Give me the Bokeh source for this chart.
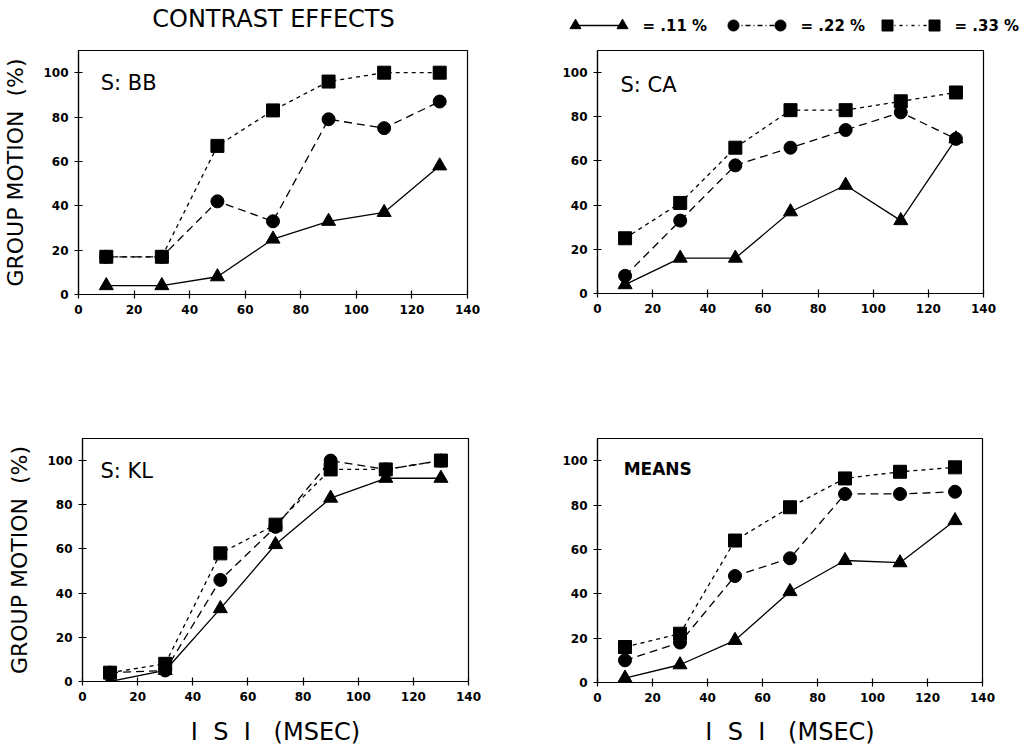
from bokeh.plotting import figure
from bokeh.layouts import column, row
from bokeh.models import Range1d, Label
from bokeh.embed import file_html
from bokeh.resources import INLINE
from bokeh.core.properties import value

# ---------------- data ----------------
isi = [10, 30, 50, 70, 90, 110, 130]
x_ticks = [0, 20, 40, 60, 80, 100, 120, 140]
y_ticks = [0, 20, 40, 60, 80, 100]
conc_labels = ["= .11 %", "= .22 %", "= .33 %"]

bb_11 = [4, 4, 8, 25, 33, 37, 58]
bb_22 = [17, 17, 42, 33, 79, 75, 87]
bb_33 = [17, 17, 67, 83, 96, 100, 100]

ca_11 = [4, 16, 16, 37, 49, 33, 70]
ca_22 = [8, 33, 58, 66, 74, 82, 70]
ca_33 = [25, 41, 66, 83, 83, 87, 91]

kl_11 = [0, 5, 33, 62, 83, 92, 92]
kl_22 = [4, 5, 46, 70, 100, 96, 100]
kl_33 = [4, 8, 58, 71, 96, 96, 100]

mn_11 = [2, 8, 19, 41, 55, 54, 73]
mn_22 = [10, 18, 48, 56, 85, 85, 86]
mn_33 = [16, 22, 64, 79, 92, 95, 97]

panel_names = ["S: BB", "S: CA", "S: KL", "MEANS"]
y_title = "GROUP MOTION\u00a0\u00a0(%)"
x_title = "I\u00a0\u00a0S\u00a0\u00a0I\u00a0\u00a0\u00a0(MSEC)"

# ---------------- styles ----------------
markers = ["triangle", "circle", "square"]
marker_sizes = [14, 13, 13]
dashes = ["solid", "8 5", "4 4"]
legend_dashes = ["solid", "5 3 1 3", "3 4 1 4"]
FONT = "DejaVu Sans"


def make_panel(name, series, borders, fw, fh, ylabel, xlabel, name_pos,
               name_bold=False, x_standoff=14):
    l, r, t, b = borders
    p = figure(frame_width=fw, frame_height=fh,
               min_border_left=l, min_border_right=r,
               min_border_top=t, min_border_bottom=b,
               x_range=Range1d(0, 140), y_range=Range1d(0, 110),
               output_backend="svg", toolbar_location=None)
    p.xgrid.visible = False
    p.ygrid.visible = False
    p.outline_line_color = "black"
    p.outline_line_width = 1.2
    p.background_fill_color = "white"
    p.border_fill_color = "white"
    for ax in [p.xaxis[0], p.yaxis[0]]:
        ax.major_label_text_font = FONT
        ax.major_label_text_font_style = "bold"
        ax.major_label_text_font_size = "12px"
        ax.major_label_text_color = "black"
        ax.axis_line_color = "black"
        ax.axis_line_width = 1.2
        ax.major_tick_line_color = "black"
        ax.major_tick_line_width = 1.2
        ax.major_tick_in = 4
        ax.major_tick_out = 4
        ax.minor_tick_line_color = None
        ax.axis_label_text_font = FONT
        ax.axis_label_text_font_style = "normal"
        ax.axis_label_text_color = "black"
    p.xaxis.ticker = x_ticks
    p.yaxis.ticker = y_ticks
    p.xaxis.major_label_standoff = 6
    p.yaxis.major_label_standoff = 6
    if ylabel:
        p.yaxis.axis_label = ylabel
        p.yaxis.axis_label_text_font_size = "22px"
        p.yaxis.axis_label_standoff = 12
    if xlabel:
        p.xaxis.axis_label = xlabel
        p.xaxis.axis_label_text_font_size = "24px"
        p.xaxis.axis_label_standoff = x_standoff

    for vals, mk, sz, dash in zip(series, markers, marker_sizes, dashes):
        p.line(isi, vals, line_color="black", line_width=1.3, line_dash=dash)
        p.scatter(isi, vals, marker=mk, size=sz, fill_color="black", line_color="black")

    lbl = Label(x=name_pos[0], y=name_pos[1], text=name, text_font=FONT,
                text_font_size="17px" if name_bold else "21px",
                text_font_style="bold" if name_bold else "normal",
                text_baseline="middle", text_color="black")
    p.add_layout(lbl)
    return p


pA = make_panel(panel_names[0], [bb_11, bb_22, bb_33], (78, 53, 10, 128), 389, 244,
                y_title, None, (8, 95.5))
pB = make_panel(panel_names[1], [ca_11, ca_22, ca_33], (77, 41, 12, 127), 386, 243,
                None, None, (8.3, 94.6))
pC = make_panel(panel_names[2], [kl_11, kl_22, kl_33], (82, 52, 18, 65), 386, 243,
                y_title, x_title, (6.5, 95.5), x_standoff=14)
pD = make_panel(panel_names[3], [mn_11, mn_22, mn_33], (77, 42, 14, 68), 385, 244,
                None, x_title, (9.5, 96.4), name_bold=True, x_standoff=13)

# ---------------- header (title + legend) ----------------
hdr = figure(width=1024, height=38, x_range=Range1d(0, 1024), y_range=Range1d(38, 0),
             output_backend="svg", toolbar_location=None, min_border=0)
hdr.axis.visible = False
hdr.grid.visible = False
hdr.outline_line_color = None
hdr.text(x=[273], y=[18], text=["CONTRAST EFFECTS"], text_font=value(FONT),
         text_font_size="24px", text_align="center", text_baseline="middle",
         text_color="black")

leg_start = [575, 733, 887]
leg_span = 47
leg_text_gap = 20
leg_y = 25
for x0, mk, dash, lab in zip(leg_start, markers, legend_dashes, conc_labels):
    xs = [x0, x0 + leg_span]
    hdr.line(xs, [leg_y, leg_y], line_color="black", line_width=1.3, line_dash=dash)
    hdr.scatter(xs, [leg_y, leg_y], marker=mk, size=11, fill_color="black", line_color="black")
    hdr.text(x=[x0 + leg_span + leg_text_gap], y=[leg_y], text=[lab], text_font=value(FONT),
             text_font_size="15px", text_font_style="bold", text_align="left",
             text_baseline="middle", text_color="black")

layout = column(hdr, row(pA, pB), row(pC, pD))

open("out.html", "w").write(file_html(layout, INLINE))
